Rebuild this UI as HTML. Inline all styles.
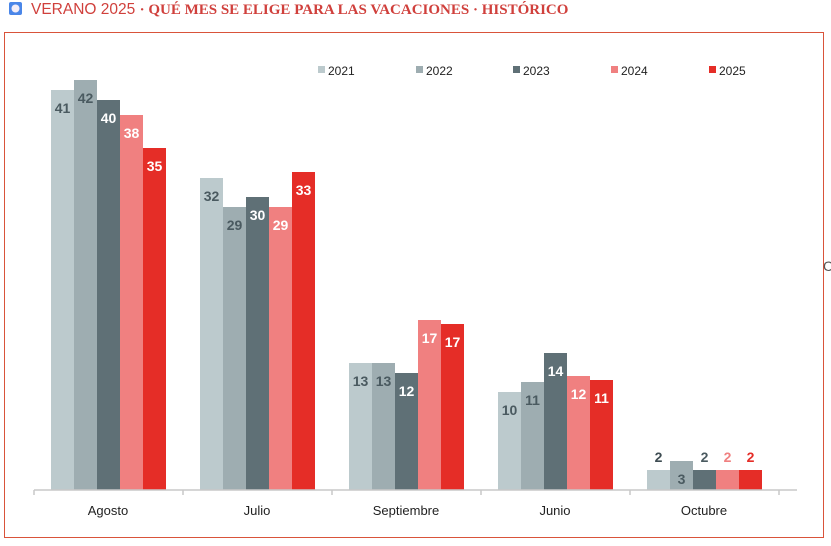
<!DOCTYPE html>
<html><head><meta charset="utf-8"><style>
body{margin:0;background:#fff;width:831px;height:541px;overflow:hidden;font-family:"Liberation Sans",sans-serif}
</style></head><body>
<svg width="831" height="541" xmlns="http://www.w3.org/2000/svg" font-family="Liberation Sans, sans-serif">
<rect x="9" y="2" width="13" height="13" rx="2" fill="#4a86e8"/>
<circle cx="15.5" cy="8.5" r="4" fill="#f4eef8"/>
<text x="31" y="14" font-size="15.5" fill="#d0403c">VERANO 2025 <tspan font-family="Liberation Serif, serif" font-weight="bold" font-size="15">· QUÉ MES SE ELIGE PARA LAS VACACIONES · HISTÓRICO</tspan></text>
<rect x="4.5" y="32.5" width="819" height="505" fill="none" stroke="#d9533a" stroke-width="1"/>
<text x="823" y="271" font-size="14" fill="#555">C</text>
<g font-size="12" fill="#222">
<rect x="318" y="66" width="7" height="7" fill="#bccacd"/><text x="328" y="75">2021</text>
<rect x="416" y="66" width="7" height="7" fill="#9eadb1"/><text x="426" y="75">2022</text>
<rect x="513" y="66" width="7" height="7" fill="#5f7076"/><text x="523" y="75">2023</text>
<rect x="611" y="66" width="7" height="7" fill="#f08080"/><text x="621" y="75">2024</text>
<rect x="709" y="66" width="7" height="7" fill="#e52d27"/><text x="719" y="75">2025</text>
</g>
<g id="bars"></g>
<line x1="34" y1="490" x2="797" y2="490" stroke="#c8c8c8" stroke-width="1.5"/>
<g stroke="#c8c8c8" stroke-width="1.5">
<line x1="34" y1="490" x2="34" y2="495"/><line x1="183" y1="490" x2="183" y2="495"/><line x1="332" y1="490" x2="332" y2="495"/><line x1="481" y1="490" x2="481" y2="495"/><line x1="630" y1="490" x2="630" y2="495"/><line x1="779" y1="490" x2="779" y2="495"/>
</g>
<g font-size="13" fill="#222" text-anchor="middle">
<text x="108" y="515">Agosto</text><text x="257" y="515">Julio</text><text x="406" y="515">Septiembre</text><text x="555" y="515">Junio</text><text x="704" y="515">Octubre</text>
</g>
</svg>
<script>
var data=[[41,42,40,38,35],[32,29,30,29,33],[13,13,12,17,17],[10,11,14,12,11],[2,3,2,2,2]];
var tops=[[90,80,100,115,148],[178,207,197,207,172],[363,363,373,320,324],[392,382,353,376,380],[470,461,470,470,470]];
var cols=["#bccacd","#9eadb1","#5f7076","#f08080","#e52d27"];
var lab=["#4a5a60","#4a5a60","#fff","#fff","#fff"];
var above=["#3e4c52","#3e4c52","#4a5a60","#f08080","#e52d27"];
var s="";
for(var g=0;g<5;g++)for(var i=0;i<5;i++){var v=data[g][i],y=tops[g][i],h=490-y,x=51+149*g+23*i;
s+='<rect x="'+x+'" y="'+y+'" width="23" height="'+h+'" fill="'+cols[i]+'"/>';
var cx=x+11.5;
if(g==4&&i!=1){s+='<text x="'+cx+'" y="'+(y-8)+'" font-size="14" font-weight="bold" text-anchor="middle" fill="'+above[i]+'">'+v+'</text>';}
else{s+='<text x="'+cx+'" y="'+(y+23)+'" font-size="14" font-weight="bold" text-anchor="middle" fill="'+lab[i]+'">'+v+'</text>';}
}
document.getElementById("bars").innerHTML=s;
</script>
</body></html>
